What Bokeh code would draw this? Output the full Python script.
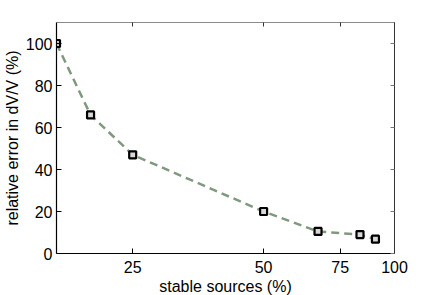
from bokeh.plotting import figure
from bokeh.models import Range1d, FixedTicker, LinearAxis, LogAxis, NumeralTickFormatter, CustomJSTickFormatter
from bokeh.embed import file_html
from bokeh.resources import INLINE

stable_sources = [16.7, 20, 25, 50, 66.7, 83.3, 90.4]
relative_error = [100, 66, 47, 20, 10.5, 9, 6.8]
x_ticks = [25, 50, 75, 100]
y_ticks = [0, 20, 40, 60, 80, 100]

FONT = "Liberation Sans"

p = figure(x_axis_type="log",
           x_range=Range1d(16.7, 100), y_range=Range1d(0, 110),
           output_backend="svg", toolbar_location=None,
           frame_width=338, frame_height=231,
           min_border_left=0, min_border_right=34, min_border_top=22, min_border_bottom=0)
p.outline_line_color = None
p.grid.visible = False
p.background_fill_color = "white"
p.border_fill_color = "white"

xa = p.xaxis[0]
xa.ticker = FixedTicker(ticks=x_ticks, minor_ticks=[])
xa.formatter = NumeralTickFormatter(format="0")
xa.axis_label = "stable sources (%)"
ya = p.yaxis[0]
ya.ticker = FixedTicker(ticks=y_ticks, minor_ticks=[])
ya.axis_label = "relative error in dV/V (%)"
for ax in (xa, ya):
    ax.major_tick_in = 5
    ax.major_tick_out = 0
    ax.minor_tick_in = 0
    ax.minor_tick_out = 0
    ax.axis_line_color = "black"
    ax.major_tick_line_color = "black"
    ax.axis_line_width = 1.2
    ax.major_label_text_font = FONT
    ax.major_label_text_font_size = "16px"
    ax.major_label_text_color = "black"
    ax.axis_label_text_font = FONT
    ax.axis_label_text_font_size = "16px"
    ax.axis_label_text_font_style = "normal"
    ax.axis_label_text_color = "black"
xa.major_label_standoff = 7
xa.axis_label_standoff = 2
ya.major_label_standoff = 4
ya.axis_label_standoff = 2

blank = CustomJSTickFormatter(code="return ''")
top = LogAxis(ticker=FixedTicker(ticks=x_ticks, minor_ticks=[]), formatter=blank,
              major_tick_in=4, major_tick_out=0, major_label_standoff=0,
              minor_tick_in=0, minor_tick_out=0,
              axis_line_color="#8a8a8a", major_tick_line_color="#333333")
right = LinearAxis(ticker=FixedTicker(ticks=y_ticks, minor_ticks=[]), formatter=blank,
                   major_tick_in=4, major_tick_out=0, major_label_standoff=0,
                   minor_tick_in=0, minor_tick_out=0,
                   axis_line_color="#333333", major_tick_line_color="#777777")
p.add_layout(top, "above")
p.add_layout(right, "right")

p.line(stable_sources, relative_error, line_color="#7f997f", line_width=2.5,
       line_dash="8 5")
p.scatter(stable_sources, relative_error, marker="square", size=7,
          line_color="black", line_width=2.2, fill_color="#d8d8d8")

open("out.html", "w").write(file_html(p, INLINE))
